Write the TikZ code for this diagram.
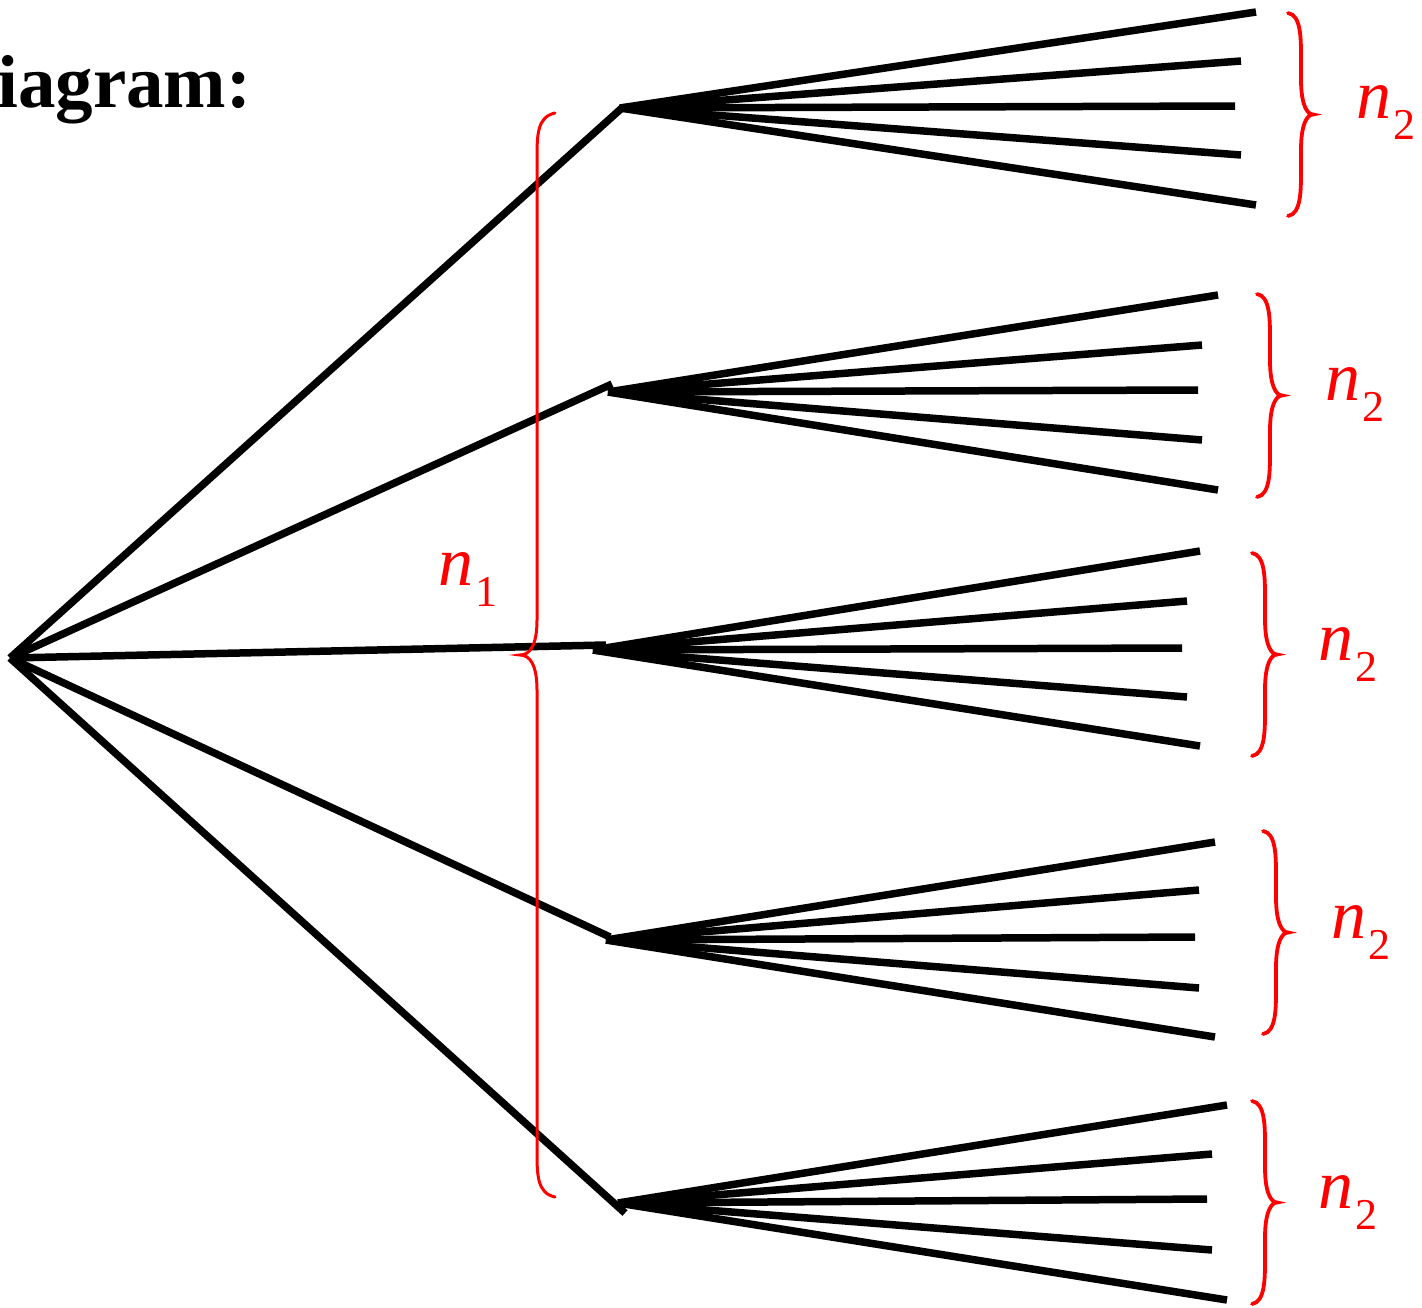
\documentclass[tikz,border=0pt]{standalone}
\usepackage{fontspec}
\setmainfont{Liberation Serif}[ItalicFont={Liberation Serif Italic},BoldFont={Liberation Serif Bold}]
\begin{document}
\begin{tikzpicture}[x=1pt,y=-1pt,
  branch/.style={line width=7.5pt, black},
  fanline/.style={line width=7.5pt, black},
  bracepath/.style={red, line width=3.8pt, line cap=round},
  nlab/.style={text=red, inner sep=0pt, anchor=base west, font=\fontsize{70}{70}\selectfont},
  title/.style={inner sep=0pt, anchor=base west, font=\fontsize{75}{75}\selectfont\bfseries}]
\useasboundingbox (0,0) rectangle (1422,1307);

% title
\node[title] (title) at (-3,107) {iagram:};

% root and branch ends
\coordinate (root) at (10,658);
\coordinate (b1) at (623,107);
\coordinate (b2) at (612,384);
\coordinate (b3) at (606,645);
\coordinate (b4) at (610,937);
\coordinate (b5) at (625,1213);

\foreach \i in {1,...,5}{ \draw[branch] (root) -- (b\i); }

% fan origins
\coordinate (f1) at (620,108);
\coordinate (f2) at (608,392);
\coordinate (f3) at (593,650);
\coordinate (f4) at (606,940);
\coordinate (f5) at (618,1203);

% fan endpoints
\coordinate (f1a) at (1256,12);  \coordinate (f1b) at (1241,61);  \coordinate (f1c) at (1235,106);  \coordinate (f1d) at (1241,155);  \coordinate (f1e) at (1256,205);
\coordinate (f2a) at (1218,295); \coordinate (f2b) at (1202,345); \coordinate (f2c) at (1198,390);  \coordinate (f2d) at (1202,440);  \coordinate (f2e) at (1218,490);
\coordinate (f3a) at (1200,551); \coordinate (f3b) at (1187,601); \coordinate (f3c) at (1182,648);  \coordinate (f3d) at (1187,697);  \coordinate (f3e) at (1200,746);
\coordinate (f4a) at (1215,842); \coordinate (f4b) at (1199,890); \coordinate (f4c) at (1195,937);  \coordinate (f4d) at (1199,988);  \coordinate (f4e) at (1215,1037);
\coordinate (f5a) at (1227,1105);\coordinate (f5b) at (1212,1154);\coordinate (f5c) at (1207,1199); \coordinate (f5d) at (1212,1250); \coordinate (f5e) at (1227,1300);

\foreach \i in {1,...,5}{
  \foreach \j in {a,b,c,d,e}{ \draw[fanline] (f\i) -- (f\i\j); }
}

% right braces: top x0,y0 ; vertical at x0+13 ; tip at x0+25
\foreach \x/\y/\k in {1288/13/1, 1257/294/2, 1252/553/3, 1263/831/4, 1252/1101/5}{
  \pgfmathsetmacro{\xv}{\x+13}
  \pgfmathsetmacro{\xt}{\x+25}
  \pgfmathsetmacro{\ym}{\y+101.5}
  \pgfmathsetmacro{\yb}{\y+203}
  \draw[bracepath] (\x,\y) .. controls (\xv,\y+2) and (\xv,\y+25) .. (\xv,\y+45)
     -- (\xv,\ym-35) .. controls (\xv,\ym-10) and (\xv+6,\ym) .. (\xt,\ym)
     .. controls (\xv+6,\ym) and (\xv,\ym+10) .. (\xv,\ym+35)
     -- (\xv,\yb-45) .. controls (\xv,\yb-25) and (\xv,\yb-2) .. (\x,\yb);
}

% big left brace
\draw[bracepath, line width=3pt] (555,113) .. controls (537,117) and (537,135) .. (537,160)
   -- (537,620) .. controls (537,645) and (530,655) .. (520,655)
   .. controls (530,655) and (537,665) .. (537,690)
   -- (537,1150) .. controls (537,1175) and (537,1193) .. (555,1197);

% labels
\node[nlab] (n1) at (438,585) {\textit{n}\kern2pt\raisebox{-21pt}{\fontsize{44}{44}\selectfont 1}};
\node[nlab] (l1) at (1356,118) {\textit{n}\kern2pt\raisebox{-21pt}{\fontsize{44}{44}\selectfont 2}};
\node[nlab] (l2) at (1325,400) {\textit{n}\kern2pt\raisebox{-21pt}{\fontsize{44}{44}\selectfont 2}};
\node[nlab] (l3) at (1318,660) {\textit{n}\kern2pt\raisebox{-21pt}{\fontsize{44}{44}\selectfont 2}};
\node[nlab] (l4) at (1331,938) {\textit{n}\kern2pt\raisebox{-21pt}{\fontsize{44}{44}\selectfont 2}};
\node[nlab] (l5) at (1318,1208) {\textit{n}\kern2pt\raisebox{-21pt}{\fontsize{44}{44}\selectfont 2}};
\end{tikzpicture}
\end{document}
